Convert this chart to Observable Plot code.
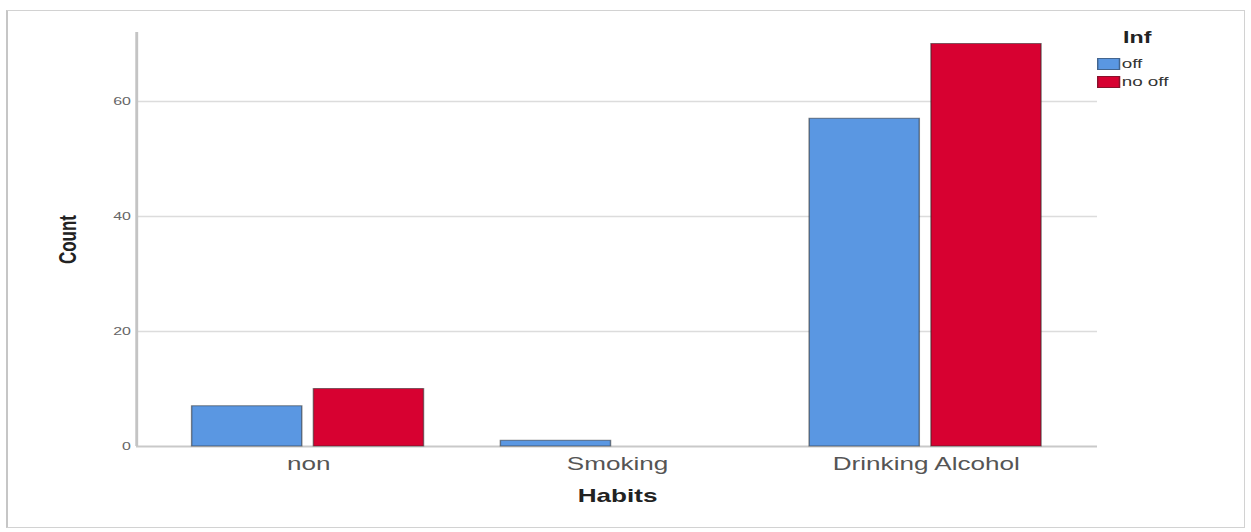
<!DOCTYPE html>
<html>
<head>
<meta charset="utf-8">
<script src="https://cdn.jsdelivr.net/npm/d3@7"></script>
<script src="https://cdn.jsdelivr.net/npm/@observablehq/plot@0.6"></script>
<style>
  html, body { margin: 0; padding: 0; background: #fff; }
  #wrap { position: relative; width: 1251px; height: 532px; overflow: hidden; font-family: "Liberation Sans", Arial, sans-serif; }
  #wrap svg { position: absolute; left: 0; top: 0; width: 1251px !important; height: 532px !important; max-width: none !important; }
  #border { position: absolute; left: 6px; top: 10px; width: 1239px; height: 518px; border: 1px solid #d2d2d2; border-left: 2px solid #c6c6c6; box-sizing: border-box; }
  #legend { position: absolute; left: 1097px; top: 0; width: 110px; height: 100px; transform: scaleX(1.45); transform-origin: 0 0; color: #333; }
  #legend .title { position: absolute; left: 18px; top: 28px; font-weight: bold; font-size: 16px; line-height: 20px; color: #222; }
  #legend .sw { position: absolute; left: 0; width: 16px; height: 12px; box-sizing: border-box; border: 1px solid rgba(40,40,40,0.45); }
  #legend .lab { position: absolute; left: 17px; font-size: 13px; line-height: 14px; color: #333; }
  g[aria-label="fx-axis label"] text { font-weight: bold; font-size: 18px; fill: #222; }
  g[aria-label="y-axis label"] text { font-weight: bold; font-size: 17px; fill: #222; }
</style>
</head>
<body>
<div id="wrap">
  <div id="border"></div>
  <div id="legend"></div>
</div>
<script>
// ---- data ----
const habits = ["non", "Smoking", "Drinking Alcohol"];
const infLevels = ["off", "no off"];
const countOff = [7, 1, 57];
const countNoOff = [10, 0, 70];
const yTicks = [0, 20, 40, 60];
const barColors = ["#5a97e2", "#d70131"];
const legendTitle = "Inf";
const xTitle = "Habits";
const yTitle = "Count";

const rows = habits.flatMap((h, i) => [
  {habit: h, inf: infLevels[0], count: countOff[i]},
  {habit: h, inf: infLevels[1], count: countNoOff[i]}
]);

// The reference is horizontally stretched; draw in a narrower space and stretch the SVG.
const W = 1251, H = 532, IW = 863, S = W / IW;
const common = {
  width: IW, height: H,
  marginLeft: 136 / S, marginRight: 154 / S, marginTop: 32, marginBottom: 86,
  style: {fontFamily: "'Liberation Sans', Arial, sans-serif", background: "transparent", overflow: "visible"}
};

function stretch(svg) {
  svg.setAttribute("viewBox", `0 0 ${IW} ${H}`);
  svg.setAttribute("width", W);
  svg.setAttribute("height", H);
  svg.setAttribute("preserveAspectRatio", "none");
  return svg;
}

// Background: grid, axis lines, y axis
const back = Plot.plot({
  ...common,
  x: {domain: [0, 1], axis: null},
  y: {domain: [0, 72], axis: null},
  marks: [
    Plot.ruleY(yTicks.filter(d => d > 0), {stroke: "#dcdcdc", strokeWidth: 1.5}),
    Plot.ruleY([0], {stroke: "#c9c9c9", strokeWidth: 2}),
    Plot.ruleX([0], {stroke: "#c4c4c4", strokeWidth: 2}),
    Plot.axisY(yTicks, {
      tickSize: 0, tickPadding: 4, fontSize: 11, fill: "#666",
      label: yTitle, labelArrow: "none", labelAnchor: "center", labelOffset: 54, dy: 0
    })
  ]
});

// Foreground: bars, faceted by habit
const front = Plot.plot({
  ...common,
  fx: {domain: habits, paddingInner: 0.2455, paddingOuter: 0.174},
  x: {domain: infLevels, axis: null, paddingInner: 0.0967, paddingOuter: 0},
  y: {domain: [0, 72], axis: null},
  color: {domain: infLevels, range: barColors},
  marks: [
    Plot.barY(rows, {
      fx: "habit", x: "inf", y: "count", fill: "inf",
      filter: d => d.count > 0,
      stroke: "#2a2a2a", strokeOpacity: 0.55, strokeWidth: 1
    }),
    Plot.axisFx({
      anchor: "bottom", tickSize: 0, tickPadding: 11, fontSize: 18, fill: "#555",
      label: xTitle, labelAnchor: "center", labelOffset: 55
    })
  ]
});

const wrap = document.getElementById("wrap");
wrap.appendChild(stretch(back));
wrap.appendChild(stretch(front));

// Legend
const legend = document.getElementById("legend");
const t = document.createElement("div");
t.className = "title"; t.textContent = legendTitle;
legend.appendChild(t);
infLevels.forEach((lv, i) => {
  const sw = document.createElement("div");
  sw.className = "sw";
  sw.style.top = (58 + i * 18) + "px";
  sw.style.background = barColors[i];
  legend.appendChild(sw);
  const lab = document.createElement("div");
  lab.className = "lab";
  lab.style.top = (57 + i * 18) + "px";
  lab.textContent = lv;
  legend.appendChild(lab);
});
</script>
</body>
</html>
